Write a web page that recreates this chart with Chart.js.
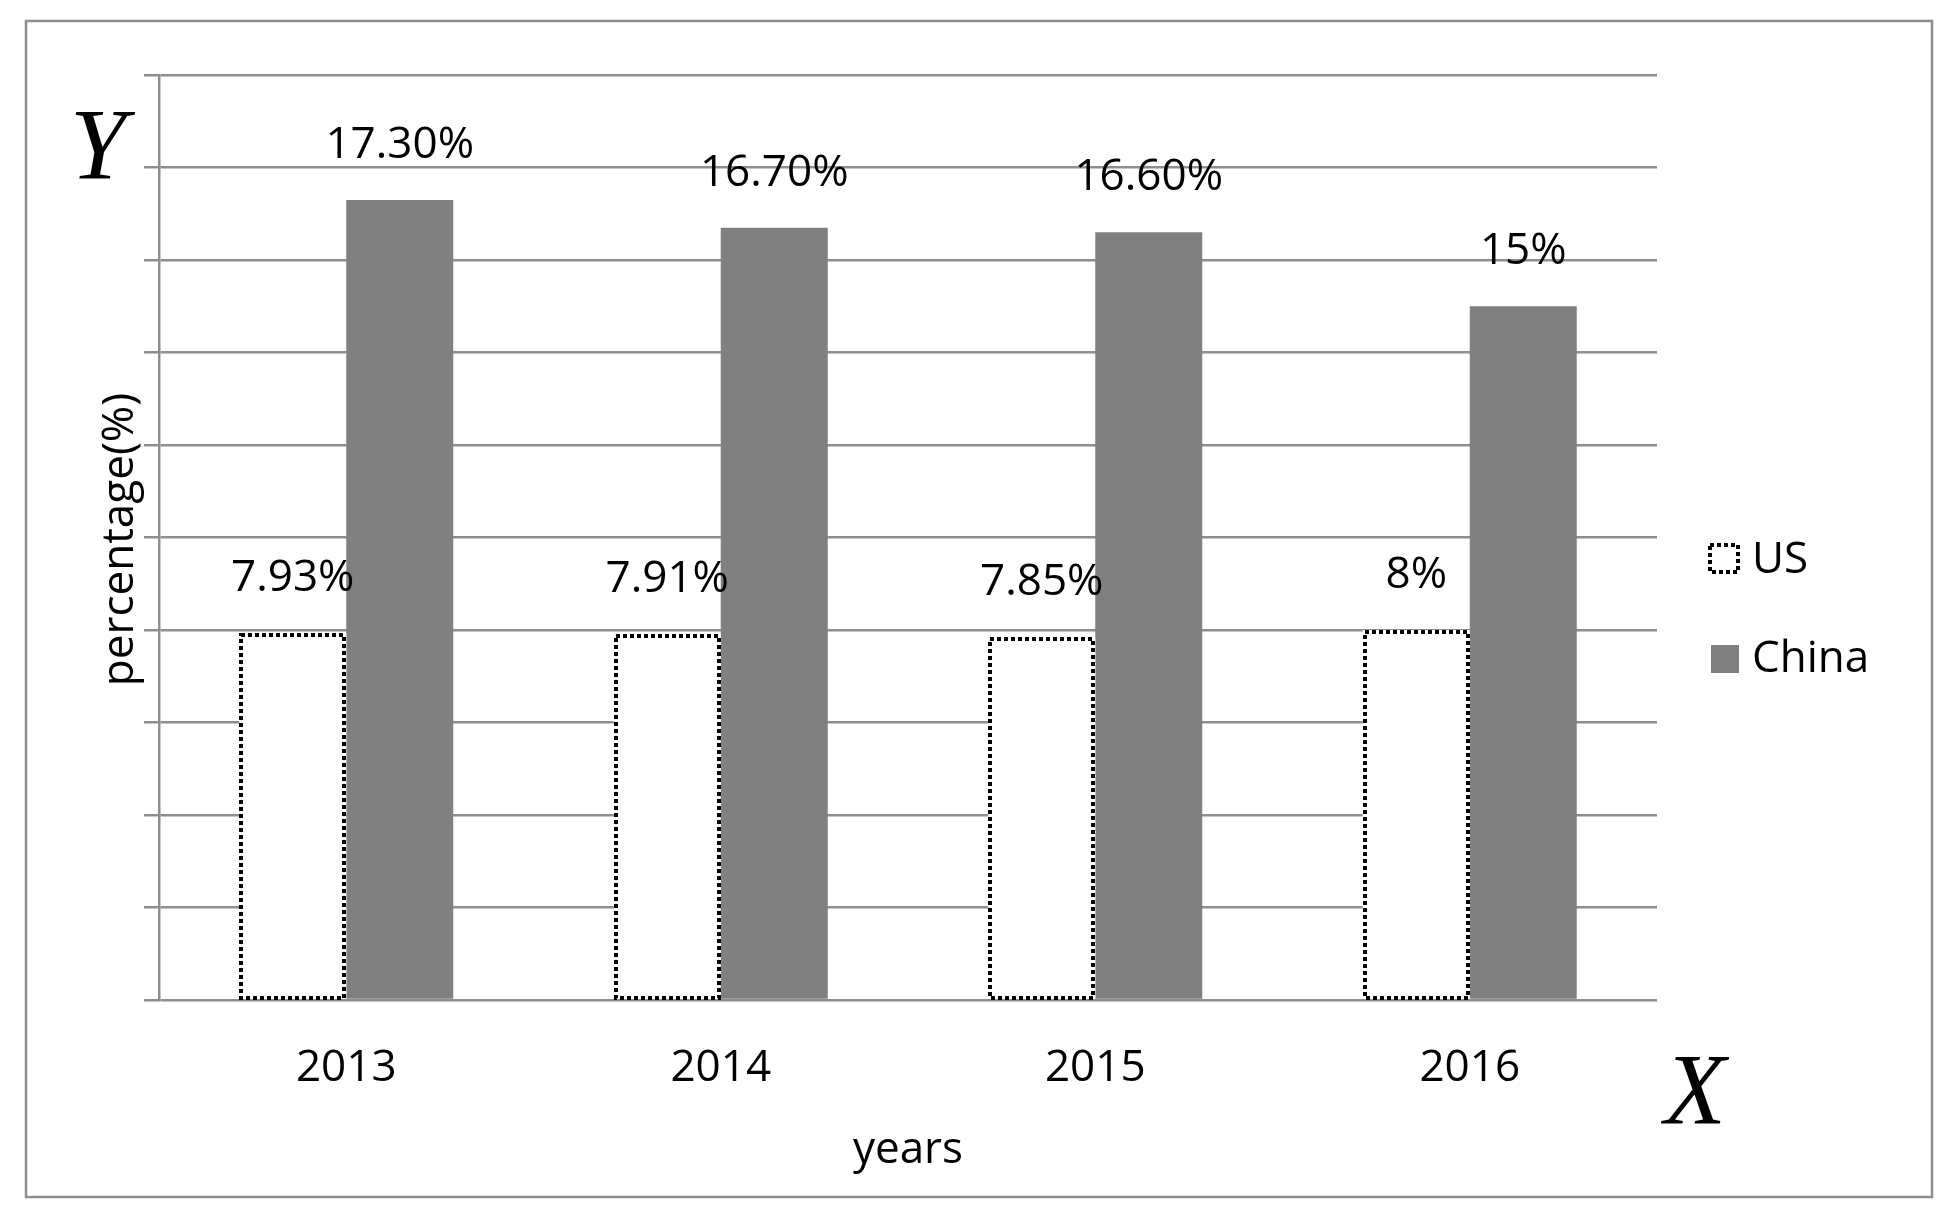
<!DOCTYPE html>
<html><head><meta charset="utf-8">
<script src="https://cdn.jsdelivr.net/npm/chart.js@4.4.0/dist/chart.umd.min.js"></script>
<style>html,body{margin:0;padding:0;background:#fff;} canvas{display:block;}</style>
</head><body>
<canvas id="c" width="1959" height="1221"></canvas>
<script>
// ---- data ----
const years = ['2013', '2014', '2015', '2016'];
const seriesNames = ['US', 'China'];
const usValues = [7.93, 7.91, 7.85, 8];
const chinaValues = [17.3, 16.7, 16.6, 15];
const usLabels = ['7.93%', '7.91%', '7.85%', '8%'];
const chinaLabels = ['17.30%', '16.70%', '16.60%', '15%'];
const yTickMin = 0, yTickMax = 20, yTickStep = 2;
const xTitle = 'years';
const yTitle = 'percentage(%)';

const FONT = '"Open Sans", "Noto Sans", sans-serif';
const GRID = '#8e8e8e';
const CHINA = '#808080';

const decor = {
  id: 'decor',
  beforeDraw(chart) {
    const ctx = chart.ctx;
    ctx.save();
    ctx.fillStyle = '#fff';
    ctx.fillRect(0, 0, chart.width, chart.height);
    ctx.strokeStyle = GRID;
    ctx.lineWidth = 2.5;
    ctx.strokeRect(26, 21, 1906, 1176);
    ctx.restore();
  },
  afterDatasetsDraw(chart) {
    const ctx = chart.ctx;
    ctx.save();
    // dotted border for US bars (pixel aligned)
    const usMeta = chart.getDatasetMeta(0);
    ctx.strokeStyle = '#000';
    ctx.lineWidth = 4;
    ctx.setLineDash([4, 3]);
    usMeta.data.forEach(bar => {
      const l = Math.round(bar.x - bar.width / 2);
      const r = Math.round(bar.x + bar.width / 2);
      const t = Math.round(bar.y);
      const b = Math.round(bar.base);
      ctx.strokeRect(l + 2, t + 2, r - l - 4, b - t - 3);
    });
    ctx.setLineDash([]);
    // value labels
    ctx.fillStyle = '#000';
    ctx.font = '44px ' + FONT;
    ctx.textAlign = 'center';
    ctx.textBaseline = 'alphabetic';
    const labelSets = [usLabels, chinaLabels];
    chart.data.datasets.forEach((ds, di) => {
      chart.getDatasetMeta(di).data.forEach((bar, i) => {
        ctx.fillText(labelSets[di][i], bar.x, bar.y - 42);
      });
    });
    // axis titles
    const ca = chart.chartArea;
    ctx.fillText(xTitle, (ca.left + ca.right) / 2, 1163);
    ctx.save();
    ctx.translate(133, (ca.top + ca.bottom) / 2 + 2);
    ctx.rotate(-Math.PI / 2);
    ctx.fillText(yTitle, 0, 0);
    ctx.restore();
    // legend
    ctx.textAlign = 'left';
    ctx.lineWidth = 4;
    ctx.setLineDash([4, 3]);
    ctx.strokeStyle = '#000';
    ctx.strokeRect(1710, 545, 28, 27);
    ctx.setLineDash([]);
    ctx.fillText(chart.data.datasets[0].label, 1752, 573);
    ctx.fillStyle = CHINA;
    ctx.fillRect(1711, 645, 28, 28);
    ctx.fillStyle = '#000';
    ctx.fillText(chart.data.datasets[1].label, 1752, 672);
    // Y and X markers
    ctx.font = 'italic 101px "Liberation Serif", "DejaVu Serif", serif';
    ctx.textAlign = 'center';
    ctx.fillText('Y', 98, 179);
    ctx.fillText('X', 1695, 1124);
    ctx.restore();
  }
};

new Chart(document.getElementById('c'), {
  type: 'bar',
  data: {
    labels: years,
    datasets: [
      { label: seriesNames[0], data: usValues, backgroundColor: '#ffffff', borderWidth: 0 },
      { label: seriesNames[1], data: chinaValues, backgroundColor: CHINA, borderWidth: 0 }
    ]
  },
  options: {
    responsive: false,
    animation: false,
    devicePixelRatio: 1,
    layout: { padding: { left: 0, top: 75, right: 302, bottom: 0 } },
    plugins: { legend: { display: false }, tooltip: { enabled: false }, title: { display: false } },
    datasets: { bar: { categoryPercentage: 0.5714, barPercentage: 1.0 } },
    scales: {
      x: {
        grid: { display: false, drawTicks: false },
        border: { display: false },
        ticks: { color: '#000', font: { family: FONT, size: 44 }, padding: 42 },
        afterFit(scale) { scale.height = 221; }
      },
      y: {
        min: yTickMin, max: yTickMax,
        grid: { color: GRID, lineWidth: 2.5, tickLength: 15, drawTicks: true },
        border: { display: true, color: GRID, width: 2.5 },
        ticks: { display: false, stepSize: yTickStep },
        afterFit(scale) { scale.width = 159; }
      }
    }
  },
  plugins: [decor]
});
</script>
</body></html>
